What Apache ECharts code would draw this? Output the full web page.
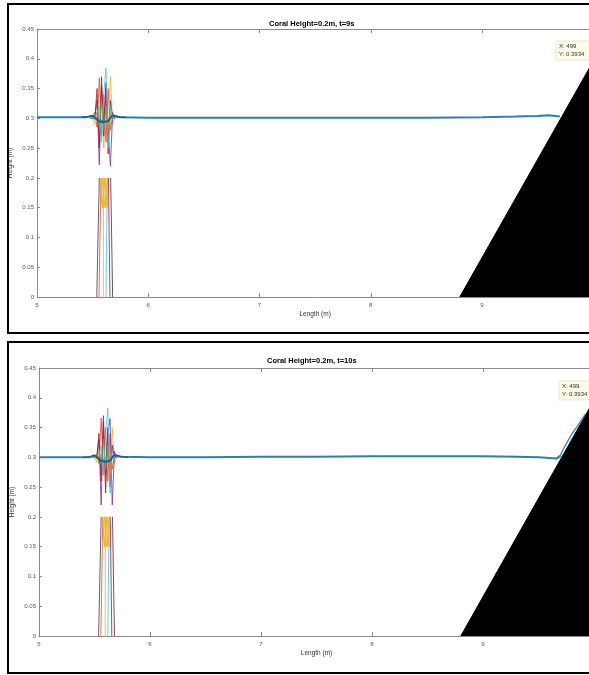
<!DOCTYPE html>
<html>
<head>
<meta charset="utf-8">
<script src="https://cdn.jsdelivr.net/npm/echarts@6/dist/echarts.min.js"></script>
<style>
html,body{margin:0;padding:0;background:#fff;}
#c{width:589px;height:675px;}
</style>
</head>
<body>
<div id="c"></div>
<script>
// ---- text ----
const panelTitles = ['Coral Height=0.2m, t=9s', 'Coral Height=0.2m, t=10s'];
const xAxisName = 'Length (m)';
const yAxisName = 'Height (m)';
const dataTipLines = ['X: 499', 'Y: 0.3934'];

// ---- beach slope (filled below) ----
const slopeX = [8.8, 10];
const slopeY = [0, 0.396];

// ---- coral stems (same in both frames) ----
const stemBaseX = [5.537, 5.557, 5.596, 5.62, 5.656, 5.68];
const stemTopX = [5.56, 5.575, 5.598, 5.632, 5.642, 5.662];
const stemTopY = 0.2;
// cross bracing between 0.15 m and 0.2 m
const braceX = [5.575, 5.59, 5.605, 5.62, 5.635];
const braceAY = [0.2, 0.15, 0.2, 0.15, 0.2];
const braceBY = [0.15, 0.2, 0.15, 0.2, 0.15];

// ---- free-surface traces inside the coral zone ----
const spikeX = [5.48, 5.50, 5.52, 5.54, 5.56, 5.58, 5.60, 5.62, 5.64, 5.66, 5.68, 5.70];
const spikes9 = [
  [0.300, 0.302, 0.310, 0.285, 0.368, 0.270, 0.340, 0.260, 0.350, 0.280, 0.305, 0.300],
  [0.300, 0.298, 0.290, 0.330, 0.260, 0.350, 0.250, 0.330, 0.270, 0.370, 0.290, 0.300],
  [0.300, 0.301, 0.305, 0.330, 0.222, 0.355, 0.290, 0.360, 0.280, 0.220, 0.310, 0.300],
  [0.300, 0.300, 0.300, 0.350, 0.250, 0.370, 0.270, 0.350, 0.240, 0.330, 0.300, 0.300],
  [0.300, 0.300, 0.298, 0.310, 0.290, 0.330, 0.280, 0.320, 0.290, 0.310, 0.299, 0.300],
  [0.300, 0.300, 0.302, 0.310, 0.320, 0.260, 0.340, 0.385, 0.250, 0.320, 0.300, 0.300]
];
const spikes10 = [
  [0.300, 0.301, 0.305, 0.290, 0.366, 0.270, 0.350, 0.260, 0.340, 0.280, 0.302, 0.300],
  [0.300, 0.298, 0.292, 0.320, 0.270, 0.340, 0.250, 0.320, 0.280, 0.350, 0.290, 0.300],
  [0.300, 0.300, 0.300, 0.330, 0.220, 0.370, 0.270, 0.340, 0.365, 0.220, 0.310, 0.300],
  [0.300, 0.300, 0.300, 0.340, 0.260, 0.360, 0.240, 0.350, 0.250, 0.320, 0.300, 0.300],
  [0.300, 0.300, 0.298, 0.310, 0.290, 0.330, 0.280, 0.320, 0.290, 0.310, 0.299, 0.300],
  [0.300, 0.300, 0.300, 0.305, 0.320, 0.270, 0.340, 0.383, 0.240, 0.310, 0.300, 0.300]
];

// ---- mean free surface ----
const surfX9 = [5.0, 5.3, 5.45, 5.5, 5.53, 5.56, 5.6, 5.64, 5.67, 5.7, 5.75, 6.0, 6.5, 7.0, 7.5, 8.0, 8.5, 9.0, 9.3, 9.5, 9.6, 9.7];
const surfY9 = [0.302, 0.302, 0.302, 0.304, 0.301, 0.296, 0.295, 0.296, 0.303, 0.303, 0.302, 0.301, 0.301, 0.301, 0.301, 0.301, 0.301, 0.302, 0.303, 0.304, 0.305, 0.303];
const surfX10 = [5.0, 5.3, 5.45, 5.5, 5.53, 5.56, 5.6, 5.64, 5.67, 5.7, 5.75, 6.0, 6.5, 7.0, 7.5, 8.0, 8.5, 9.0, 9.3, 9.5, 9.6, 9.66, 9.7];
const surfY10 = [0.300, 0.300, 0.300, 0.303, 0.300, 0.295, 0.294, 0.295, 0.302, 0.302, 0.301, 0.300, 0.300, 0.301, 0.301, 0.302, 0.302, 0.302, 0.301, 0.300, 0.299, 0.298, 0.302];
// darker trace at the coral edges
const edgeX = [5.40, 5.46, 5.50, 5.53, 5.56, 5.60, 5.64, 5.67, 5.70, 5.74, 5.80];
const edgeY9 = [0.302, 0.303, 0.305, 0.299, 0.294, 0.293, 0.295, 0.304, 0.305, 0.302, 0.302];
const edgeY10 = [0.300, 0.301, 0.304, 0.298, 0.293, 0.292, 0.294, 0.303, 0.304, 0.301, 0.300];
// run-up on the slope at t=10s
const runupX = [9.66, 9.70, 9.73, 9.76, 9.79, 9.82, 9.85, 9.88, 9.92];
const runupY = [0.299, 0.304, 0.316, 0.326, 0.336, 0.345, 0.352, 0.361, 0.372];

// ---- styling ----
const spikeColors = ['#D95319', '#EDB120', '#7E2F8E', '#A2142F', '#77AC30', '#4DBEEE'];
const stemColors = ['#4a2d55', '#D95319', '#EDB120', '#4DBEEE', '#A2142F', '#3b2b40'];
const FONT = 'Liberation Sans, Arial, sans-serif';
const AXIS_COLOR = '#8a8a8a';
const LABEL_COLOR = '#5a5a5a';

const zip = (xs, ys) => xs.map((x, i) => [x, ys[i]]);

function lineSeries(ax, data, color, width, z, extra) {
  return Object.assign({
    type: 'line',
    xAxisIndex: ax.x,
    yAxisIndex: ax.y,
    data: data,
    showSymbol: false,
    symbol: 'none',
    silent: true,
    animation: false,
    lineStyle: { color: color, width: width },
    z: z
  }, extra || {});
}

function panelSeries(ax, spikes, surfX, surfY, edgeY, withRunup) {
  const s = [];
  // beach
  s.push(lineSeries(ax, zip(slopeX, slopeY), '#000', 1, 2, {
    areaStyle: { color: '#000', opacity: 1 }
  }));
  // coral stems
  stemBaseX.forEach((bx, i) => {
    s.push(lineSeries(ax, [[bx, 0], [stemTopX[i], stemTopY]], stemColors[i], 0.8, 3));
  });
  s.push(lineSeries(ax, zip(braceX, braceAY), '#EDB120', 1, 3));
  s.push(lineSeries(ax, zip(braceX, braceBY), '#D9C24A', 1, 3));
  // surface traces in coral
  spikes.forEach((vals, i) => {
    s.push(lineSeries(ax, zip(spikeX, vals), spikeColors[i], 0.8, 4));
  });
  // mean surface
  s.push(lineSeries(ax, zip(surfX, surfY), '#2b7fb5', 2, 5));
  s.push(lineSeries(ax, zip(edgeX, edgeY), '#1d5470', 1.2, 6));
  if (withRunup) {
    s.push(lineSeries(ax, zip(runupX, runupY), '#2b7fb5', 1.2, 6));
    s.push(lineSeries(ax, zip(runupX.map(v => v - 0.012), runupY.map(v => v - 0.004)), '#4a90c0', 0.8, 6));
  }
  return s;
}

function bottomX(grid) {
  return {
    type: 'value', gridIndex: grid, position: 'bottom', min: 5, max: 10, interval: 1,
    name: xAxisName, nameLocation: 'middle', nameGap: 14,
    nameTextStyle: { fontFamily: FONT, fontSize: 6.5, color: '#333' },
    axisLine: { show: true, lineStyle: { color: AXIS_COLOR, width: 1 } },
    axisTick: { show: true, inside: true, length: 4, lineStyle: { color: AXIS_COLOR } },
    axisLabel: { fontFamily: FONT, fontSize: 6, color: LABEL_COLOR, margin: 5, showMaxLabel: false },
    splitLine: { show: false }
  };
}
function topX(grid) {
  return {
    type: 'value', gridIndex: grid, position: 'top', min: 5, max: 10, interval: 1,
    axisLine: { show: true, lineStyle: { color: AXIS_COLOR, width: 1 } },
    axisTick: { show: true, inside: true, length: 4, lineStyle: { color: AXIS_COLOR } },
    axisLabel: { show: false },
    splitLine: { show: false }
  };
}
function leftY(grid) {
  return {
    type: 'value', gridIndex: grid, min: 0, max: 0.45, interval: 0.05,
    name: yAxisName, nameLocation: 'middle', nameGap: 23, nameRotate: 90,
    nameMoveOverlap: false,
    nameTextStyle: { fontFamily: FONT, fontSize: 6.5, color: '#333' },
    axisLine: { show: true, lineStyle: { color: AXIS_COLOR, width: 1 } },
    axisTick: { show: true, inside: true, length: 3, lineStyle: { color: AXIS_COLOR } },
    axisLabel: { fontFamily: FONT, fontSize: 6, color: LABEL_COLOR, margin: 3 },
    splitLine: { show: false }
  };
}

function dataTip(x, y) {
  return {
    type: 'group', x: x, y: y, z: 200,
    children: [
      { type: 'rect', shape: { x: 0, y: 0, width: 40, height: 19 },
        style: { fill: '#fbfbe6', stroke: '#d8d8c8', lineWidth: 0.6 } },
      { type: 'text', x: 3, y: 2.5,
        style: { text: dataTipLines[0], font: '6px ' + FONT, fill: '#333' } },
      { type: 'text', x: 3, y: 10.5,
        style: { text: dataTipLines[1], font: '6px ' + FONT, fill: '#333' } }
    ]
  };
}

const chart = echarts.init(document.getElementById('c'), null, { renderer: 'canvas' });
chart.setOption({
  backgroundColor: '#fff',
  animation: false,
  title: [
    { text: panelTitles[0], left: 264, top: 15,
      textStyle: { fontFamily: FONT, fontSize: 7.5, fontWeight: 'bold', color: '#000' } },
    { text: panelTitles[1], left: 262, top: 352,
      textStyle: { fontFamily: FONT, fontSize: 7.5, fontWeight: 'bold', color: '#000' } }
  ],
  grid: [
    { left: 37, top: 29, width: 556.25, height: 268, containLabel: false, outerBoundsMode: 'none' },
    { left: 39, top: 368, width: 555, height: 268, containLabel: false, outerBoundsMode: 'none' }
  ],
  xAxis: [bottomX(0), topX(0), bottomX(1), topX(1)],
  yAxis: [leftY(0), leftY(1)],
  series: [].concat(
    panelSeries({ x: 0, y: 0 }, spikes9, surfX9, surfY9, edgeY9, false),
    panelSeries({ x: 2, y: 1 }, spikes10, surfX10, surfY10, edgeY10, true)
  ),
  graphic: [
    { type: 'rect', shape: { x: 8, y: 4, width: 600, height: 329 },
      style: { fill: 'none', stroke: '#000', lineWidth: 2 }, z: 300 },
    { type: 'rect', shape: { x: 8, y: 342, width: 600, height: 331 },
      style: { fill: 'none', stroke: '#000', lineWidth: 2 }, z: 300 },
    dataTip(556, 41),
    dataTip(559, 381)
  ]
});
</script>
</body>
</html>
